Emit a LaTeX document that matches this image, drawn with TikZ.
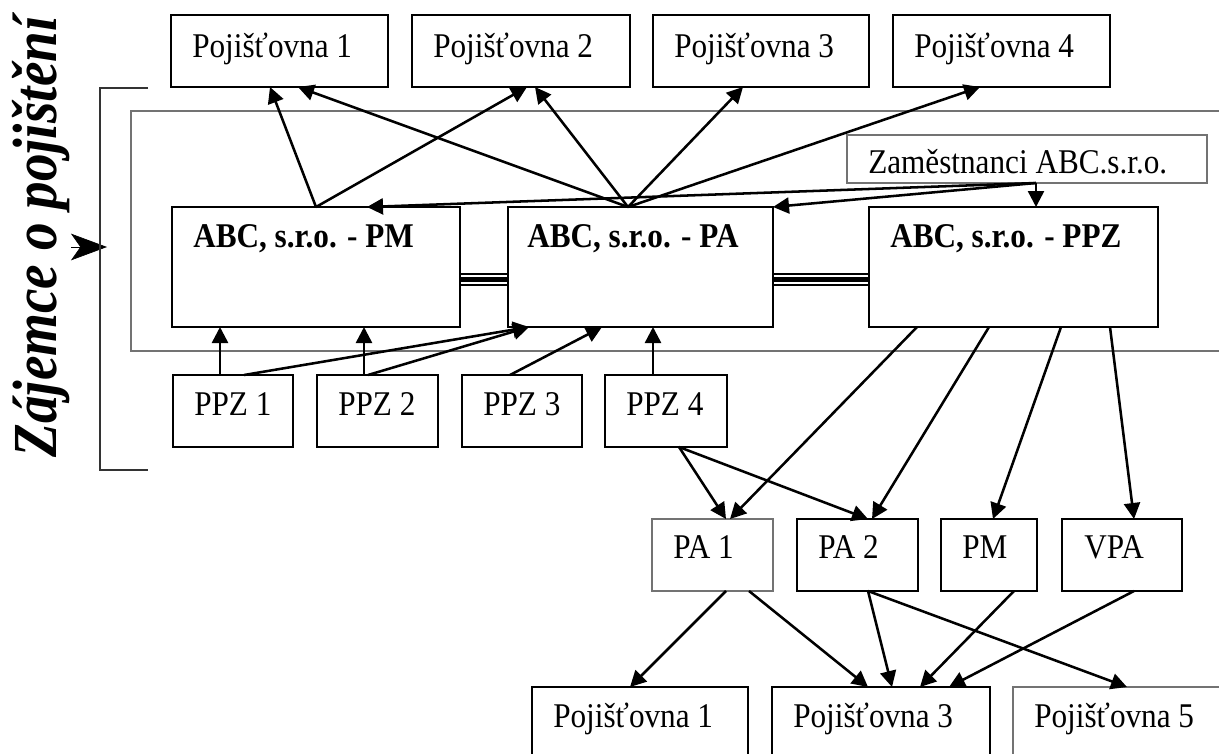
\documentclass[tikz,border=0pt]{standalone}
\usepackage{fontspec}
\setmainfont{Liberation Serif}[FakeStretch=0.9]
\newfontfamily\titlefont{Liberation Serif}[FakeStretch=0.88]
\usetikzlibrary{arrows.meta}
\newcommand\bx[6][box]{\node[#1, minimum width={(#5-#3)*0.75pt}, minimum height={(#6-#4)*0.75pt}] (#2) at (#3,#4) {};}
\begin{document}
\begin{tikzpicture}[x=0.75pt,y=-0.75pt,
  box/.style={draw, line width=1.5pt, inner sep=0pt, outer sep=0pt, anchor=north west},
  gbox/.style={box, draw=black!55, line width=1.1pt},
  txt/.style={anchor=base west, inner sep=0pt, font=\fontsize{26}{30}\selectfont},
  btxt/.style={anchor=base west, inner sep=0pt, font=\fontsize{26}{30}\selectfont\bfseries},
  arr/.style={line width=1.9pt, -{Triangle[length=12pt,width=12pt]}},
  tripA/.style={line width=9.75pt, shorten <=0.8pt, shorten >=0.8pt},
  tripB/.style={white, line width=6.5pt, shorten <=0.8pt, shorten >=0.8pt},
  tripC/.style={line width=3.4pt, shorten <=0.8pt, shorten >=0.8pt},
  frame/.style={draw=black!55, line width=1.1pt}]
\useasboundingbox (0,0) rectangle (1219,753);
\clip (0,0) rectangle (1219,753);

% title and bracket
\node[rotate=90, anchor=base, inner sep=0pt, font=\titlefont\fontsize{47}{52}\selectfont\bfseries\itshape] (title) at (56,237) {Zájemce o pojištění};
\coordinate (ta) at (71,247);
\coordinate (tb) at (107,247);
\draw[line width=0.5pt, -{Stealth[length=27pt,width=20pt,inset=7pt]}] (ta) -- (tb);
\coordinate (br1) at (148,88);
\coordinate (br2) at (148,470);
\draw[black!80, line width=1pt] (br1) -- (100,88) -- (100,470) -- (br2);
\draw[frame] (131,111) rectangle (1260,351);

% top insurers
\bx{p1}{171}{15}{388}{87}
\bx{p2}{412}{15}{630}{87}
\bx{p3}{653}{15}{869}{87}
\bx{p4}{893}{15}{1110}{87}
\node[txt] (p1t) at (192,57) {Pojišťovna 1};
\node[txt] (p2t) at (433,57) {Pojišťovna 2};
\node[txt] (p3t) at (674,57) {Pojišťovna 3};
\node[txt] (p4t) at (914,57) {Pojišťovna 4};

% employees
\bx[gbox]{zam}{847}{135}{1207}{183}
\node[txt] (zamt) at (868,173) {Zaměstnanci ABC.s.r.o.};

% ABC boxes
\bx{abcpm}{172}{207}{460}{327}
\bx{abcpa}{508}{207}{773}{327}
\bx{abcppz}{869}{207}{1158}{327}
\node[btxt] (abcpmt) at (193,247) {ABC, s.r.o. - PM};
\node[btxt] (abcpat) at (527,247) {ABC, s.r.o. - PA};
\node[btxt] (abcppzt) at (890,247) {ABC, s.r.o. - PPZ};
\foreach \a/\b in {abcpm/abcpa, abcpa/abcppz} {
  \draw[tripA] ([yshift=-9.4pt]\a.east) -- ([yshift=-9.4pt]\b.west);
  \draw[tripB] ([yshift=-9.4pt]\a.east) -- ([yshift=-9.4pt]\b.west);
  \draw[tripC] ([yshift=-9.4pt]\a.east) -- ([yshift=-9.4pt]\b.west);
}

% PPZ row
\bx{ppz1}{173}{375}{293}{447}
\bx{ppz2}{317}{375}{438}{447}
\bx{ppz3}{462}{375}{582}{447}
\bx{ppz4}{605}{375}{727}{447}
\node[txt] (ppz1t) at (194,415) {PPZ 1};
\node[txt] (ppz2t) at (338,415) {PPZ 2};
\node[txt] (ppz3t) at (483,415) {PPZ 3};
\node[txt] (ppz4t) at (626,415) {PPZ 4};

% lower row
\bx[gbox]{pa1}{652}{519}{773}{591}
\bx{pa2}{797}{519}{918}{591}
\bx{pmx}{941}{519}{1037}{591}
\bx{vpa}{1062}{519}{1182}{591}
\node[txt] (pa1t) at (673,558) {PA 1};
\node[txt] (pa2t) at (818,558) {PA 2};
\node[txt] (pmxt) at (962,558) {PM};
\node[txt] (vpat) at (1084,558) {VPA};

% bottom insurers
\bx{q1}{532}{687}{748}{800}
\bx{q3}{772}{687}{990}{800}
\bx[gbox]{q5}{1013}{687}{1260}{800}
\node[txt] (q1t) at (553,727) {Pojišťovna 1};
\node[txt] (q3t) at (793,727) {Pojišťovna 3};
\node[txt] (q5t) at (1034,727) {Pojišťovna 5};

% connectors: top
\draw[arr] (316,0 |- abcpm.north) -- (270,0 |- p1.south);
\draw[arr] (316,0 |- abcpm.north) -- (527,0 |- p2.south);
\draw[arr] (628,0 |- abcpa.north) -- (298,0 |- p1.south);
\draw[arr] (628,0 |- abcpa.north) -- (535,0 |- p2.south);
\draw[arr] (628,0 |- abcpa.north) -- (743,0 |- p3.south);
\draw[arr] (628,0 |- abcpa.north) -- (980,0 |- p4.south);
\draw[arr] (1036,0 |- zam.south) -- (367,0 |- abcpm.north);
\draw[arr] (1036,0 |- zam.south) -- (abcpa.north east);
\draw[arr] (1036,0 |- zam.south) -- (1036,0 |- abcppz.north);

% connectors: PPZ row up
\draw[arr] (220,0 |- ppz1.north) -- (220,0 |- abcpm.south);
\draw[arr] (364,0 |- ppz2.north) -- (364,0 |- abcpm.south);
\draw[arr] (244,0 |- ppz1.north) -- (529,0 |- abcpa.south);
\draw[arr] (368,0 |- ppz2.north) -- (529,0 |- abcpa.south);
\draw[arr] (510,0 |- ppz3.north) -- (602,0 |- abcpa.south);
\draw[arr] (653,0 |- ppz4.north) -- (653,0 |- abcpa.south);

% connectors: down from ABC-PPZ and PPZ 4
\draw[arr] (917,0 |- abcppz.south) -- (730,0 |- pa1.north);
\draw[arr] (989,0 |- abcppz.south) -- (872,0 |- pa2.north);
\draw[arr] (1061,0 |- abcppz.south) -- (993,0 |- pmx.north);
\draw[arr] (1110,0 |- abcppz.south) -- (1134,0 |- vpa.north);
\draw[arr] (679,0 |- ppz4.south) -- (726,0 |- pa1.north);
\draw[arr] (679,0 |- ppz4.south) -- (868,0 |- pa2.north);

% connectors: lower
\draw[arr] (726,0 |- pa1.south) -- (630,0 |- q1.north);
\draw[arr] (749,0 |- pa1.south) -- (868,0 |- q3.north);
\draw[arr] (868,0 |- pa2.south) -- (892,0 |- q3.north);
\draw[arr] (868,0 |- pa2.south) -- (1127,0 |- q5.north);
\draw[arr] (1014,0 |- pmx.south) -- (920,0 |- q3.north);
\draw[arr] (1134,0 |- vpa.south) -- (949,0 |- q3.north);
\end{tikzpicture}
\end{document}
